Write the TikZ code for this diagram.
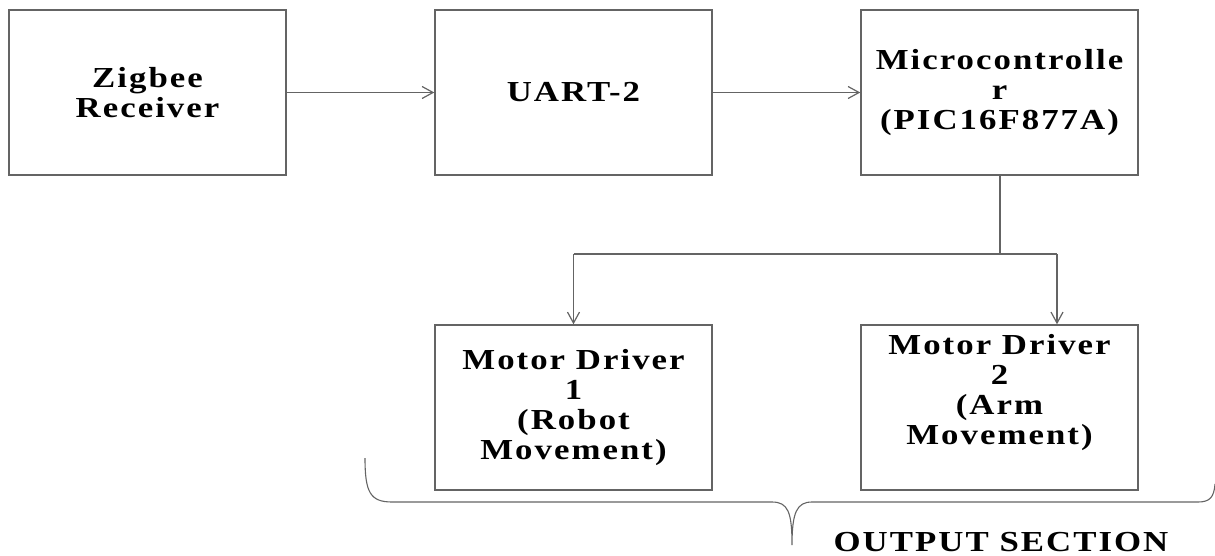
\documentclass[tikz,border=0pt]{standalone}
\usepackage{fontspec}
\setmainfont{Liberation Serif}[LetterSpace=7,FakeStretch=1.2]
\usetikzlibrary{arrows.meta,calc}

\definecolor{linegray}{RGB}{100,100,100}

\tikzset{
  block/.style={draw=linegray, line width=1.4pt, minimum width=277pt,
    minimum height=165pt, inner sep=0pt, align=center,
    font=\fontsize{29}{30}\selectfont\bfseries},
  caption/.style={inner sep=0pt, align=center,
    font=\fontsize{29}{30}\selectfont\bfseries},
  flow/.style={draw=linegray, line width=1.2pt,
    -{Straight Barb[length=11pt,width=12pt,line width=1.2pt]}},
  wire/.style={draw=linegray, line width=1.2pt},
}

\begin{document}
\begin{tikzpicture}[x=1pt, y=-1pt]
  \useasboundingbox (0,0) rectangle (1215,555);

  % top row
  \node[block] (zig)  at (147.5,92.5) {Zigbee\\Receiver};
  \node[block] (uart) at (573.5,92.5) {UART-2};
  \node[block] (mcu)  at (999.5,92.5) {Microcontrolle\\r\\(PIC16F877A)};

  % output drivers
  \node[block] (md1) at (573.5,407.5) {Motor Driver\\1\\(Robot\\Movement)};
  \node[block] (md2) at (999.5,407.5) {};
  \node[caption] (md2text) at (999.5,393) {Motor Driver\\2\\(Arm\\Movement)};

  % signal flow
  \draw[flow] (zig.east) -- (uart.west);
  \draw[flow] (uart.east) -- (mcu.west);

  \coordinate (split) at (1000,254);
  \coordinate (toleft) at (573.5,254);
  \coordinate (toright) at (1057,254);
  \draw[wire] (mcu.south -| split) -- (split);
  \draw[wire] (toleft) -- (toright);
  \draw[flow] (toleft) -- (toleft |- md1.north);
  \draw[flow] (toright) -- (toright |- md2.north);

  % brace grouping the output section
  \draw[wire, line width=1.1pt]
    (365,458) .. controls (365,492) and (370,502) .. (392,502)
    -- (772,502) .. controls (788,502) and (792,512) .. (792,545)
    .. controls (792,512) and (797,502) .. (812,502)
    -- (1198,502) .. controls (1210,502) and (1214,497) .. (1215,484);

  \node[caption, anchor=base] (outsec) at (1001,551) {OUTPUT SECTION};
\end{tikzpicture}
\end{document}
